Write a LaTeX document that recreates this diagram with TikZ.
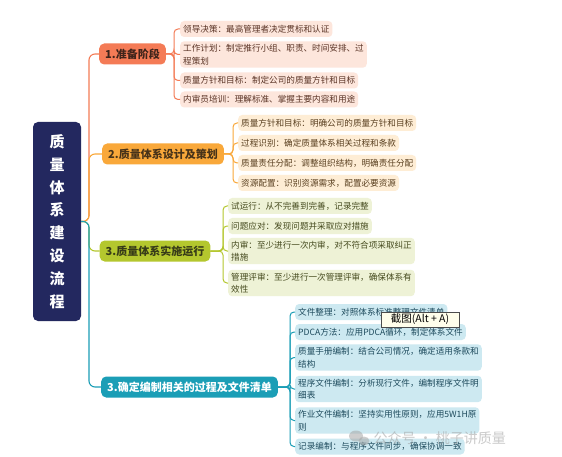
\documentclass[tikz,border=0pt]{standalone}
\usepackage{fontspec}
\setmainfont{Noto Sans CJK SC}
\definecolor{rootc}{HTML}{23285F}
\definecolor{c1}{HTML}{F47B56}
\definecolor{c1l}{HTML}{FDE6DC}
\definecolor{t1}{HTML}{5A3426}
\definecolor{c2}{HTML}{F9A83A}
\definecolor{c2l}{HTML}{FEEDD5}
\definecolor{t2}{HTML}{5A4020}
\definecolor{c3}{HTML}{B4C72E}
\definecolor{c3l}{HTML}{EEF2D6}
\definecolor{t3}{HTML}{454A1E}
\definecolor{c4}{HTML}{1B9EB6}
\definecolor{c4l}{HTML}{CDE9F1}
\definecolor{t4}{HTML}{1D4A5C}
\begin{document}
\begin{tikzpicture}[x=1pt,y=-1pt,
  leaf/.style={rounded corners=4pt, inner xsep=3pt, inner ysep=3pt, minimum height=16pt, anchor=west, align=left, font=\fontsize{8.6}{12.5}\selectfont},
  branch/.style={rounded corners=5pt, inner xsep=6pt, inner ysep=2pt, minimum height=21pt, font=\fontsize{11}{13}\selectfont\bfseries},
  conn/.style={line width=1.1pt, rounded corners=6pt},
  brk/.style={line width=1pt, rounded corners=4pt}
]
\useasboundingbox[fill=white] (0,0) rectangle (562,457);

% root
\node[rounded corners=5pt, fill=rootc, minimum width=48pt, minimum height=199pt, text=white, font=\fontsize{15}{22.8}\selectfont\bfseries, align=center] (root) at (57,221.5) {质\\量\\体\\系\\建\\设\\流\\程};

% branches
\node[branch, fill=c1, text=t1!70!black] (b1) at (132.5,54) {1.准备阶段};
\node[branch, fill=c2, text=t2!80!black] (b2) at (163,154) {2.质量体系设计及策划};
\node[branch, fill=c3, text=t3!80!black] (b3) at (155,251) {3.质量体系实施运行};
\node[branch, fill=c4, text=white] (b4) at (189.5,387) {3.确定编制相关的过程及文件清单};

% group 1
\node[leaf, fill=c1l, text=t1] (l1a) at (180,29) {领导决策：最高管理者决定贯标和认证};
\node[leaf, fill=c1l, text=t1] (l1b) at (180,54.5) {工作计划：制定推行小组、职责、时间安排、过\\程策划};
\node[leaf, fill=c1l, text=t1] (l1c) at (180,80.5) {质量方针和目标：制定公司的质量方针和目标};
\node[leaf, fill=c1l, text=t1] (l1d) at (180,99.5) {内审员培训：理解标准、掌握主要内容和用途};

% group 2
\node[leaf, fill=c2l, text=t2] (l2a) at (238,123) {质量方针和目标：明确公司的质量方针和目标};
\node[leaf, fill=c2l, text=t2] (l2b) at (238,143) {过程识别：确定质量体系相关过程和条款};
\node[leaf, fill=c2l, text=t2] (l2c) at (238,163) {质量责任分配：调整组织结构，明确责任分配};
\node[leaf, fill=c2l, text=t2] (l2d) at (238,183) {资源配置：识别资源需求，配置必要资源};

% group 3
\node[leaf, fill=c3l, text=t3] (l3a) at (228,206) {试运行：从不完善到完善，记录完整};
\node[leaf, fill=c3l, text=t3] (l3b) at (228,226) {问题应对：发现问题并采取应对措施};
\node[leaf, fill=c3l, text=t3] (l3c) at (228,251) {内审：至少进行一次内审，对不符合项采取纠正\\措施};
\node[leaf, fill=c3l, text=t3] (l3d) at (228,283) {管理评审：至少进行一次管理评审，确保体系有\\效性};

% group 4
\node[leaf, fill=c4l, text=t4] (l4a) at (295,312) {文件整理：对照体系标准整理文件清单};
\node[leaf, fill=c4l, text=t4] (l4b) at (295,332) {PDCA方法：应用PDCA循环，制定体系文件};
\node[leaf, fill=c4l, text=t4] (l4c) at (295,357.5) {质量手册编制：结合公司情况，确定适用条款和\\结构};
\node[leaf, fill=c4l, text=t4] (l4d) at (295,389) {程序文件编制：分析现行文件，编制程序文件明\\细表};
\node[leaf, fill=c4l, text=t4] (l4e) at (295,420.5) {作业文件编制：坚持实用性原则，应用5W1H原\\则};
\node[leaf, fill=c4l, text=t4] (l4f) at (295,446.5) {记录编制：与程序文件同步，确保协调一致};

% root connectors
\coordinate (rj) at (89,221.5);
\draw[conn, c1] (root.east) -- (rj) |- (b1.west);
\draw[conn, c2] (root.east) -- (rj) |- (b2.west);
\draw[conn, c3] (root.east) -- (rj) |- (b3.west);
\draw[conn, c4] (root.east) -- (rj) |- (b4.west);

% brackets
\coordinate (k1) at (174,54);
\foreach \n in {l1a,l1b,l1c,l1d} \draw[brk, c1] (b1.east) -- (k1) |- (\n.west);
\coordinate (k2) at (233,154);
\foreach \n in {l2a,l2b,l2c,l2d} \draw[brk, c2] (b2.east) -- (k2) |- (\n.west);
\coordinate (k3) at (223,251);
\foreach \n in {l3a,l3b,l3c,l3d} \draw[brk, c3] (b3.east) -- (k3) |- (\n.west);
\coordinate (k4) at (290,387);
\foreach \n in {l4a,l4b,l4c,l4d,l4e,l4f} \draw[brk, c4] (b4.east) -- (k4) |- (\n.west);

% tooltip
\node[draw=black!70, fill=yellow!8, inner sep=1.5pt, minimum width=78pt, minimum height=15pt, font=\fontsize{10.5}{12}\selectfont] (tip) at (420,319.5) {截图(Alt + A)};

% watermark
\begin{scope}[opacity=0.55]
\fill[gray!70] (356,436) ellipse (7pt and 5.5pt);
\fill[gray!70] (364,441) ellipse (5.5pt and 4.5pt);
\node[text=gray!75, font=\fontsize{14}{16}\selectfont, anchor=west] (wm) at (370,438) {公众号 · 桃子讲质量};
\end{scope}
\end{tikzpicture}
\end{document}
